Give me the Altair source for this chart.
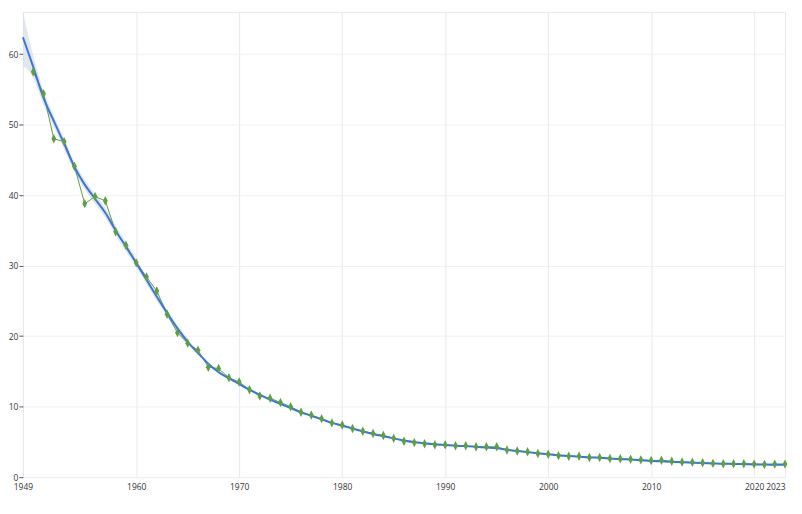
import altair as alt
import pandas as pd

years = list(range(1950, 2024))
values = [57.5, 54.4, 48.0, 47.6, 44.1, 38.8, 39.8, 39.2, 34.8, 32.9,
          30.4, 28.4, 26.4, 23.1, 20.5, 19.0, 18.0, 15.6, 15.4, 14.1,
          13.5, 12.4, 11.5, 11.2, 10.6, 10.0, 9.2, 8.8, 8.3, 7.7,
          7.4, 6.9, 6.5, 6.2, 5.9, 5.5, 5.1, 4.9, 4.75, 4.6,
          4.6, 4.45, 4.45, 4.3, 4.3, 4.3, 3.85, 3.7, 3.6, 3.35,
          3.25, 3.05, 2.95, 2.95, 2.8, 2.8, 2.65, 2.6, 2.55, 2.45,
          2.35, 2.4, 2.25, 2.15, 2.1, 2.05, 1.95, 1.9, 1.9, 1.9,
          1.85, 1.8, 1.85, 1.85]

fit_years = list(range(1949, 2024))
fit_values = [62.4, 58.2, 53.8, 50.5, 47.3, 44.0, 41.5, 39.5, 37.5, 35.0,
              32.7, 30.4, 28.0, 25.6, 23.3, 21.1, 19.2, 17.6, 16.1, 14.9,
              14.0, 13.2, 12.4, 11.7, 11.0, 10.4, 9.8, 9.2, 8.7, 8.2,
              7.7, 7.3, 6.9, 6.5, 6.1, 5.8, 5.5, 5.2, 5.0, 4.8,
              4.65, 4.55, 4.45, 4.4, 4.3, 4.2, 4.1, 3.9, 3.7, 3.55,
              3.4, 3.25, 3.1, 3.0, 2.9, 2.8, 2.75, 2.65, 2.55, 2.5,
              2.4, 2.3, 2.25, 2.2, 2.1, 2.05, 2.0, 1.95, 1.9, 1.88,
              1.85, 1.8, 1.78, 1.77, 1.76]

band_years = list(range(1949, 1966))
band_low = [58.4, 56.6, 52.8, 49.7, 46.5, 43.3, 40.8, 38.8, 36.8, 34.3,
            32.0, 29.8, 27.4, 25.0, 22.8, 20.6, 18.7]
band_high = [66.0, 59.8, 54.9, 51.3, 48.1, 44.7, 42.2, 40.2, 38.2, 35.7,
             33.4, 31.0, 28.6, 26.2, 23.8, 21.6, 19.7]

x_ticks = [1949, 1960, 1970, 1980, 1990, 2000, 2010, 2020, 2023]
y_ticks = [0, 10, 20, 30, 40, 50, 60]

data = pd.DataFrame({"year": years, "value": values})
fit = pd.DataFrame({"year": fit_years, "fit": fit_values})
band = pd.DataFrame({"year": band_years, "lo": band_low, "hi": band_high})

xscale = alt.Scale(domain=[1949, 2023], nice=False, zero=False)
yscale = alt.Scale(domain=[0, 66], nice=False)

xaxis = alt.Axis(values=x_ticks, format="d", title=None, ticks=False, domain=False,
                 labelFont="Open Sans", labelFontSize=8.5, labelColor="#333",
                 gridColor="#e6eaee", labelPadding=5, labelOverlap=False,
                 labelAlign=alt.ExprRef(expr="datum.value == 2023 ? 'right' : 'center'"))
yaxis = alt.Axis(values=y_ticks, title=None, domain=False, tickSize=4, tickColor="#555",
                 labelFont="Open Sans", labelFontSize=8.5, labelColor="#333",
                 gridColor="#eef1f3", labelPadding=1, labelOverlap=False)

band_layer = alt.Chart(band).mark_area(color="#d5dde6", opacity=0.7, interpolate="monotone",
                                       clip=True).encode(
    x=alt.X("year:Q", scale=xscale, axis=xaxis),
    y=alt.Y("lo:Q", scale=yscale, axis=yaxis),
    y2="hi:Q",
)

green_line = alt.Chart(data).mark_line(color="#5e9e45", strokeWidth=1).encode(
    x=alt.X("year:Q", scale=xscale),
    y=alt.Y("value:Q", scale=yscale),
)

fit_line = alt.Chart(fit).mark_line(color="#3b76d6", strokeWidth=2, interpolate="monotone").encode(
    x=alt.X("year:Q", scale=xscale),
    y=alt.Y("fit:Q", scale=yscale),
)

points = alt.Chart(data).mark_point(
    shape="M0,-1L0.5,0L0,1L-0.5,0Z", filled=True, color="#5e9e45", size=90, opacity=1
).encode(
    x=alt.X("year:Q", scale=xscale),
    y=alt.Y("value:Q", scale=yscale),
)

chart = alt.layer(band_layer, green_line, fit_line, points).properties(
    width=765, height=467,
    padding={"left": 0, "top": 3, "right": 5, "bottom": 5},
).configure_view(stroke="#e6eaee", strokeWidth=1)

chart.save("out.html", embed_options={"renderer": "svg", "actions": False})
